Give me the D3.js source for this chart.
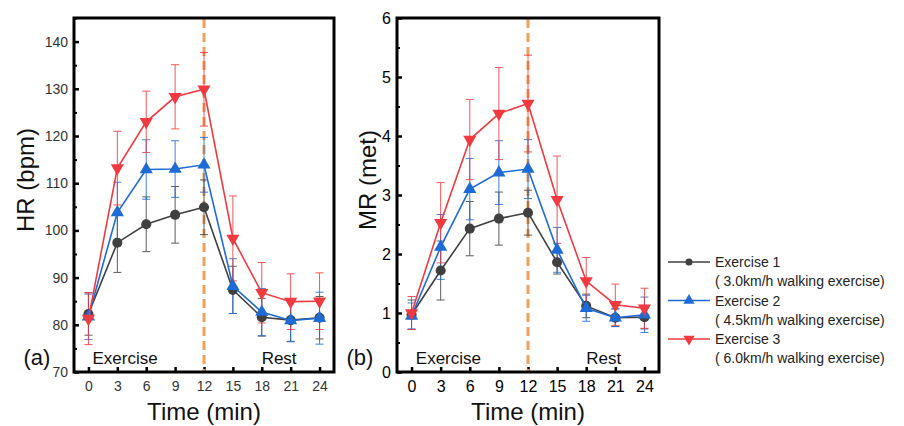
<!DOCTYPE html>
<html lang="en">
<head>
<meta charset="UTF-8">
<title>HR and MR during exercise and rest</title>
<style>
  body { margin: 0; background: #fff; }
  text { font-family: "Liberation Sans", Arial, sans-serif; }
</style>
</head>
<body>
<script src="https://cdn.jsdelivr.net/npm/d3@7"></script>
<script>
const times = [0, 3, 6, 9, 12, 15, 18, 21, 24];
const seriesNames = ["Exercise 1", "Exercise 2", "Exercise 3"];
const seriesNotes = ["( 3.0km/h walking exercise)", "( 4.5km/h walking exercise)", "( 6.0km/h walking exercise)"];

// HR (bpm) means and SD
const hr1 = [82.3, 97.4, 101.3, 103.3, 104.9, 87.4, 81.6, 81.0, 81.5];
const hr2 = [81.7, 103.8, 112.9, 113.0, 113.9, 88.2, 82.7, 80.9, 81.4];
const hr3 = [81.3, 113.2, 123.0, 128.3, 129.9, 98.3, 86.8, 84.9, 85.0];
const hrSd1 = [4.5, 6.3, 5.8, 6.0, 5.8, 5.0, 4.0, 4.5, 4.5];
const hrSd2 = [4.8, 6.4, 6.3, 6.0, 5.8, 5.8, 5.0, 4.5, 5.5];
const hrSd3 = [5.5, 7.8, 6.5, 6.8, 7.8, 9.0, 6.4, 5.9, 6.0];

// MR (met) means and SD
const mr1 = [0.97, 1.72, 2.43, 2.60, 2.70, 1.86, 1.12, 0.92, 0.93];
const mr2 = [0.95, 2.12, 3.10, 3.38, 3.44, 2.07, 1.08, 0.92, 0.97];
const mr3 = [1.00, 2.53, 3.94, 4.38, 4.55, 2.92, 1.54, 1.14, 1.08];
const mrSd1 = [0.25, 0.50, 0.46, 0.45, 0.38, 0.20, 0.20, 0.15, 0.20];
const mrSd2 = [0.22, 0.55, 0.52, 0.54, 0.50, 0.38, 0.22, 0.15, 0.30];
const mrSd3 = [0.28, 0.68, 0.68, 0.78, 0.82, 0.74, 0.40, 0.35, 0.34];

const hrTicks = [70, 80, 90, 100, 110, 120, 130, 140];
const mrTicks = [0, 1, 2, 3, 4, 5, 6];

const colors = ["#404040", "#1f6bd6", "#f03a40"];
const shapes = [d3.symbolCircle, d3.symbolTriangle, d3.symbolTriangle];

const W = 904, H = 426;
const svg = d3.select("body").append("svg").attr("width", W).attr("height", H);

function drawPanel(opt) {
  const x = d3.scaleLinear().domain([-1.5, 25.5]).range([opt.left, opt.right]);
  const y = d3.scaleLinear().domain(opt.yDomain).range([372, 18]);
  const g = svg.append("g");

  // minor ticks on y
  g.append("g")
    .attr("transform", `translate(${opt.left},0)`)
    .call(d3.axisLeft(y).tickValues(opt.minor).tickSize(-3).tickFormat(""))
    .call(s => s.select(".domain").remove())
    .selectAll("line").attr("stroke-width", 2);

  const ya = g.append("g")
    .attr("transform", `translate(${opt.left},0)`)
    .call(d3.axisLeft(y).tickValues(opt.ticks).tickSize(-5).tickPadding(6).tickFormat(d3.format("d")));
  ya.select(".domain").remove();
  ya.selectAll("line").attr("stroke-width", 2.5);
  ya.selectAll("text").attr("font-size", opt.tickFont).attr("fill", opt.tickColor);

  const xa = g.append("g")
    .attr("transform", "translate(0,372)")
    .call(d3.axisBottom(x).tickValues(times).tickSize(-5).tickPadding(9));
  xa.select(".domain").remove();
  xa.selectAll("line").attr("stroke-width", 2.5);
  xa.selectAll("text").attr("font-size", opt.tickFont).attr("fill", opt.tickColor);

  // dashed divider at 12 min
  g.append("line")
    .attr("x1", x(12)).attr("x2", x(12)).attr("y1", 19).attr("y2", 371)
    .attr("stroke", "#f2a05a").attr("stroke-width", 3).attr("stroke-dasharray", "9,5");

  opt.means.forEach((vals, k) => {
    const sds = opt.sds[k];
    const col = colors[k];
    const eb = g.append("g").attr("stroke", col).attr("stroke-width", 1).attr("opacity", 0.85);
    times.forEach((t, i) => {
      const cx = x(t), lo = y(vals[i] - sds[i]), hi = y(vals[i] + sds[i]);
      eb.append("line").attr("x1", cx).attr("x2", cx).attr("y1", lo).attr("y2", hi);
      eb.append("line").attr("x1", cx - 4).attr("x2", cx + 4).attr("y1", lo).attr("y2", lo);
      eb.append("line").attr("x1", cx - 4).attr("x2", cx + 4).attr("y1", hi).attr("y2", hi);
    });
  });

  opt.means.forEach((vals, k) => {
    const col = colors[k];
    g.append("path")
      .datum(vals)
      .attr("fill", "none").attr("stroke", col).attr("stroke-width", 1.6)
      .attr("d", d3.line().x((d, i) => x(times[i])).y(d => y(d)));
    g.selectAll(null).data(vals).join("path")
      .attr("transform", (d, i) => `translate(${x(times[i])},${y(d)})` + (k === 2 ? " rotate(180)" : ""))
      .attr("d", d3.symbol().type(shapes[k]).size(k === 0 ? 80 : 75))
      .attr("fill", col);
  });

  // frame
  g.append("rect")
    .attr("x", opt.left).attr("y", 18)
    .attr("width", opt.right - opt.left).attr("height", 354)
    .attr("fill", "none").attr("stroke", "#000").attr("stroke-width", 3);

  g.append("text").attr("x", x(3.8)).attr("y", 364).attr("text-anchor", "middle")
    .attr("font-size", 17).attr("fill", "#111").text("Exercise");
  g.append("text").attr("x", x(19.8)).attr("y", 364).attr("text-anchor", "middle")
    .attr("font-size", 17).attr("fill", "#111").text("Rest");
  g.append("text").attr("x", opt.left - 37).attr("y", 365).attr("text-anchor", "middle")
    .attr("font-size", 22).attr("fill", "#111").text(opt.tag);

  g.append("text")
    .attr("x", (opt.left + opt.right) / 2).attr("y", 420).attr("text-anchor", "middle")
    .attr("font-size", 24).attr("fill", "#111").text("Time (min)");
  g.append("text")
    .attr("transform", `translate(${opt.yLabelX},180) rotate(-90)`)
    .attr("text-anchor", "middle").attr("font-size", 24).attr("fill", "#111").text(opt.yLabel);
}

drawPanel({
  left: 74, right: 334, yDomain: [70, 145],
  ticks: hrTicks, minor: d3.range(75, 146, 10),
  means: [hr1, hr2, hr3], sds: [hrSd1, hrSd2, hrSd3],
  tag: "(a)", yLabel: "HR (bpm)", yLabelX: 34,
  tickFont: 14, tickColor: "#333"
});

drawPanel({
  left: 397, right: 659, yDomain: [0, 6],
  ticks: mrTicks, minor: d3.range(0.5, 6, 1),
  means: [mr1, mr2, mr3], sds: [mrSd1, mrSd2, mrSd3],
  tag: "(b)", yLabel: "MR (met)", yLabelX: 376,
  tickFont: 16, tickColor: "#000"
});

// legend
const legend = svg.append("g");
seriesNames.forEach((name, k) => {
  const yy = 262 + k * 38.5;
  legend.append("line").attr("x1", 668).attr("x2", 710).attr("y1", yy).attr("y2", yy)
    .attr("stroke", colors[k]).attr("stroke-width", 1.6);
  legend.append("path")
    .attr("transform", `translate(689,${yy})` + (k === 2 ? " rotate(180)" : ""))
    .attr("d", d3.symbol().type(shapes[k]).size(k === 0 ? 40 : 55))
    .attr("fill", colors[k]);
  legend.append("text").attr("x", 715).attr("y", yy + 5)
    .attr("font-size", 14).attr("fill", "#222").text(name);
  legend.append("text").attr("x", 715).attr("y", yy + 24)
    .attr("font-size", 14).attr("fill", "#222").text(seriesNotes[k]);
});
</script>
</body>
</html>
